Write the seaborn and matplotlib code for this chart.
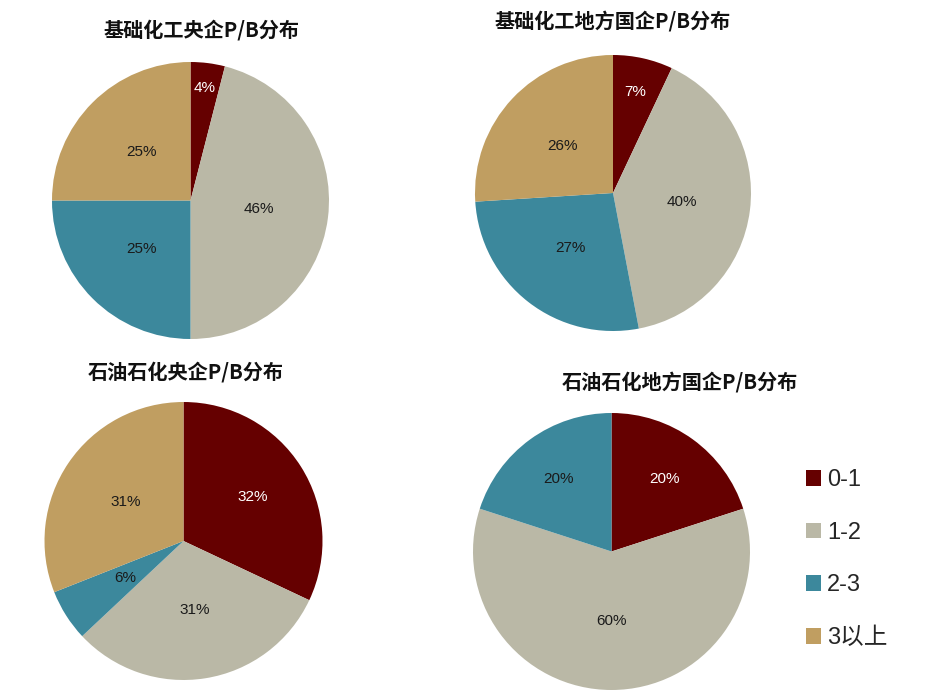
import numpy as np
import matplotlib
matplotlib.use('Agg')
import matplotlib.pyplot as plt
from matplotlib.patches import Patch
import seaborn as sns

sns.set_theme(style='white')
plt.rcParams['font.family'] = ['Liberation Sans', 'Noto Sans CJK SC', 'DejaVu Sans']
plt.rcParams['axes.unicode_minus'] = False

# ============================================================
# 数据
# ============================================================
categories = ['0-1', '1-2', '2-3', '3以上']
titles = ['基础化工央企P/B分布', '基础化工地方国企P/B分布',
          '石油石化央企P/B分布', '石油石化地方国企P/B分布']
chem_central = [4, 46, 25, 25]
chem_local = [7, 40, 27, 26]
petro_central = [32, 31, 6, 31]
petro_local = [20, 60, 20, 0]
series = [chem_central, chem_local, petro_central, petro_local]

colors = ['#650000', '#BAB8A6', '#3C889C', '#C09E61']
text_colors = ['white', '#1a1a1a', '#1a1a1a', '#1a1a1a']

W, H = 926, 700
# 饼图中心/半径 (像素) 及标题位置
pie_boxes = [(190.5, 200.5, 138.5), (613, 193, 138),
             (183.5, 541, 139), (611.5, 551.5, 138.5)]
title_pos = [(202, 30), (613, 22), (186, 372), (680, 383)]
label_dist = [[0.82, 0.5, 0.5, 0.5], [0.75, 0.5, 0.5, 0.5],
              [0.59, 0.5, 0.5, 0.5], [0.65, 0.5, 0.65, 0.5]]

fig = plt.figure(figsize=(W / 100, H / 100), dpi=100)

for i, vals in enumerate(series):
    cx, cy, r = pie_boxes[i]
    ax = fig.add_axes([(cx - r) / W, (H - cy - r) / H, 2 * r / W, 2 * r / H])
    wedges, _ = ax.pie(vals, colors=colors, startangle=90, counterclock=False,
                       radius=1, wedgeprops={'linewidth': 0})
    ax.set_xlim(-1, 1)
    ax.set_ylim(-1, 1)
    ax.set_aspect('auto')
    ax.axis('off')
    total = sum(vals)
    for j, (w, v) in enumerate(zip(wedges, vals)):
        if v == 0:
            continue
        ang = np.deg2rad((w.theta1 + w.theta2) / 2)
        d = label_dist[i][j]
        ax.text(d * np.cos(ang), d * np.sin(ang), f'{v / total * 100:.0f}%',
                ha='center', va='center', fontsize=11, color=text_colors[j])
    tx, ty = title_pos[i]
    fig.text(tx / W, 1 - ty / H, titles[i], ha='center', va='center',
             fontsize=14.5, fontweight='bold', color='#111111',
             family=['Noto Sans CJK SC', 'DejaVu Sans'])

handles = [Patch(facecolor=c, edgecolor='none') for c in colors]
fig.legend(handles, categories, loc='upper left',
           bbox_to_anchor=(806 / W, 1 - 469 / H), frameon=False,
           fontsize=17, handlelength=0.64, handleheight=0.64,
           handletextpad=0.25, labelspacing=1.3, borderpad=0, borderaxespad=0)

plt.savefig('out.png', dpi=100)
plt.close()
